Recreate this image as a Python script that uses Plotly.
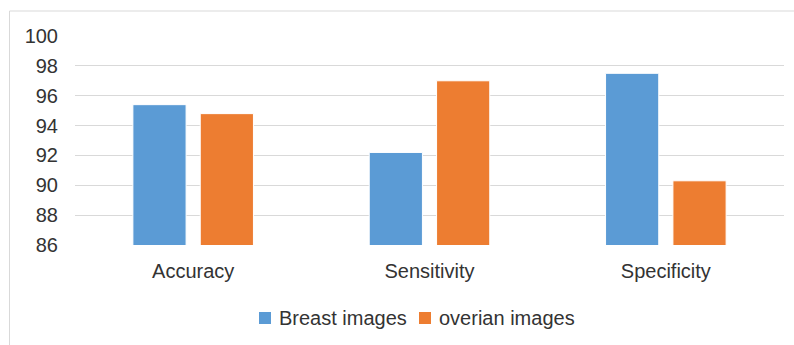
import plotly.graph_objects as go

categories = ["Accuracy", "Sensitivity", "Specificity"]
breast_values = [95.4, 92.2, 97.5]
overian_values = [94.8, 97.0, 90.3]
y_ticks = [86, 88, 90, 92, 94, 96, 98, 100]
series_names = ["Breast images", "overian images"]
series_colors = ["#5B9BD5", "#ED7D31"]

font_family = "Liberation Sans, Arial, sans-serif"
text_color = "#333333"

# plot-area geometry in pixels (used to place the legend and frame in paper units)
W, H = 794, 345
L, R, T, B = 75, 10, 36, 100
PW, PH = W - L - R, H - T - B


def px_x(px):
    return (px - L) / PW


def px_y(py):
    return (H - B - py) / PH


fig = go.Figure()
for vals, name, color in zip([breast_values, overian_values], series_names, series_colors):
    fig.add_trace(go.Bar(
        x=categories, y=vals, name=name,
        marker=dict(color=color, line=dict(color="#ffffff", width=1)),
    ))

shapes = [
    # outer chart frame (partly cut off by the page edge)
    dict(type="rect", xref="paper", yref="paper",
         x0=px_x(9.5), x1=px_x(900), y0=px_y(600), y1=px_y(11),
         line=dict(color="#d9d9d9", width=1), fillcolor="rgba(0,0,0,0)",
         layer="below"),
]
annotations = []

# legend: colour squares with the series names beside them
legend_items = [(259, 277), (419, 437)]
legend_y = 318
for (sq_x, tx_x), name, color in zip(legend_items, series_names, series_colors):
    shapes.append(dict(
        type="rect", xref="paper", yref="paper",
        x0=px_x(sq_x), x1=px_x(sq_x + 12),
        y0=px_y(legend_y + 6), y1=px_y(legend_y - 6),
        line=dict(width=0), fillcolor=color,
    ))
    annotations.append(dict(
        xref="paper", yref="paper", x=px_x(tx_x), y=px_y(legend_y),
        xanchor="left", yanchor="middle", text=name, showarrow=False,
        font=dict(size=20, color=text_color, family=font_family),
    ))

fig.update_layout(
    width=W, height=H,
    margin=dict(l=L, r=R, t=T, b=B, autoexpand=False),
    paper_bgcolor="white", plot_bgcolor="white",
    barmode="group", bargap=0.43, bargroupgap=0.21,
    font=dict(family=font_family, color=text_color, size=20),
    showlegend=False,
    xaxis=dict(
        showgrid=False, showline=False, ticks="",
        ticklabelstandoff=12,
        tickfont=dict(size=20, color=text_color),
    ),
    yaxis=dict(
        range=[86, 100], tickvals=y_ticks, ticktext=[str(v) for v in y_ticks],
        showgrid=True, gridcolor="#d9d9d9", gridwidth=1,
        zeroline=False, showline=False, ticks="",
        ticklabelstandoff=16,
        tickfont=dict(size=20, color=text_color),
    ),
    shapes=shapes,
    annotations=annotations,
)

fig.write_html("out.html")
